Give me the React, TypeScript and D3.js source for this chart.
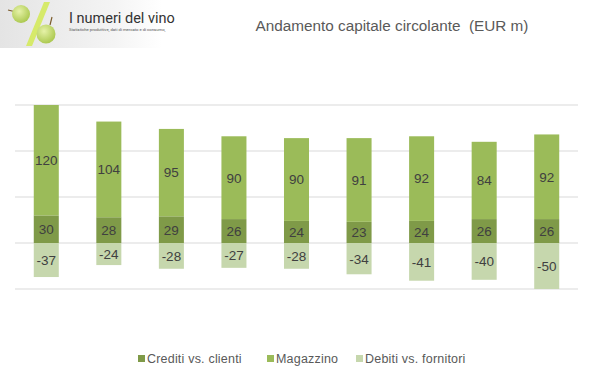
import React from "react";
import * as d3 from "d3";

const categories = ["1", "2", "3", "4", "5", "6", "7", "8", "9"];
const crediti = [30, 28, 29, 26, 24, 23, 24, 26, 26];
const magazzino = [120, 104, 95, 90, 90, 91, 92, 84, 92];
const debiti = [-37, -24, -28, -27, -28, -34, -41, -40, -50];
const yTicks = [-50, 0, 50, 100, 150];
const seriesNames = ["Crediti vs. clienti", "Magazzino", "Debiti vs. fornitori"];
const colors = ["#7f9a48", "#9bbb59", "#c6d7ad"];

export default function App() {
  const W = 600, H = 378;
  const x = d3.scaleBand<string>().domain(categories).range([15, 578]).paddingInner(0.6).paddingOuter(0.3);
  const y = d3.scaleLinear().domain([-50, 150]).range([289, 105]);
  const font = "'Liberation Sans', Arial, sans-serif";
  const segs: { key: string; x: number; y0: number; y1: number; v: number; c: string }[] = [];
  categories.forEach((c, i) => {
    const bx = x(c)!;
    segs.push({ key: "c" + i, x: bx, y0: 0, y1: crediti[i], v: crediti[i], c: colors[0] });
    segs.push({ key: "m" + i, x: bx, y0: crediti[i], y1: crediti[i] + magazzino[i], v: magazzino[i], c: colors[1] });
    segs.push({ key: "d" + i, x: bx, y0: debiti[i], y1: 0, v: debiti[i], c: colors[2] });
  });
  const legendX = [138, 267, 356];
  return (
    <svg width={W} height={H} style={{ position: "absolute", left: 0, top: 0 }} fontFamily={font}>
      <defs>
        <linearGradient id="lg" x1="0" x2="1" y1="0" y2="0">
          <stop offset="0" stopColor="#e4e4e4" />
          <stop offset="0.7" stopColor="#f4f4f4" />
          <stop offset="1" stopColor="#ffffff" />
        </linearGradient>
        <radialGradient id="grape" cx="0.4" cy="0.35" r="0.7">
          <stop offset="0" stopColor="#e6f2a8" />
          <stop offset="1" stopColor="#a8c64a" />
        </radialGradient>
      </defs>
      <rect x={0} y={0} width={W} height={H} fill="#ffffff" />
      {/* logo */}
      <rect x={0} y={0} width={162} height={48} fill="url(#lg)" />
      <line x1={8} y1={10} x2={16} y2={12} stroke="#7a5a2a" strokeWidth={1.2} />
      <circle cx={21} cy={14} r={9} fill="url(#grape)" />
      <polygon points="44,2 50,2 32,46 26,46" fill="#d6ea6a" />
      <line x1={52} y1={17} x2={50} y2={25} stroke="#7a5a2a" strokeWidth={1.2} />
      <circle cx={46} cy={34} r={9.5} fill="url(#grape)" />
      <text x={69} y={23} fontSize={14.5} fill="#333" fontFamily="'Roboto', sans-serif">I numeri del vino</text>
      <text x={69} y={31} fontSize={4.2} fill="#555" fontFamily="'Roboto', sans-serif">Statistiche produttive, dati di mercato e di consumo,</text>
      {/* title */}
      <text x={392} y={31} textAnchor="middle" fontSize={15.3} fill="#595959" style={{ whiteSpace: "pre" }}>
        {"Andamento capitale circolante  (EUR m)"}
      </text>
      {/* gridlines */}
      {yTicks.map((t) => (
        <line key={t} x1={15} x2={578} y1={y(t)} y2={y(t)} stroke="#d9d9d9" strokeWidth={1} />
      ))}
      {segs.map((s) => (
        <rect key={s.key} x={s.x} width={x.bandwidth()} y={y(Math.max(s.y0, s.y1))} height={Math.abs(y(s.y0) - y(s.y1))} fill={s.c} />
      ))}
      {segs.map((s) => (
        <text key={"t" + s.key} x={s.x + x.bandwidth() / 2} y={(y(s.y0) + y(s.y1)) / 2} dy="0.36em" textAnchor="middle" fontSize={13.5} fill="#404040">
          {s.v}
        </text>
      ))}
      {/* legend */}
      {seriesNames.map((n, i) => (
        <g key={n} transform={`translate(${legendX[i]},358.5)`}>
          <rect x={0} y={-3.5} width={7} height={7} fill={colors[i]} />
          <text x={9} y={0} dy="0.36em" fontSize={12.5} letterSpacing={0.2} fill="#595959">{n}</text>
        </g>
      ))}
    </svg>
  );
}
